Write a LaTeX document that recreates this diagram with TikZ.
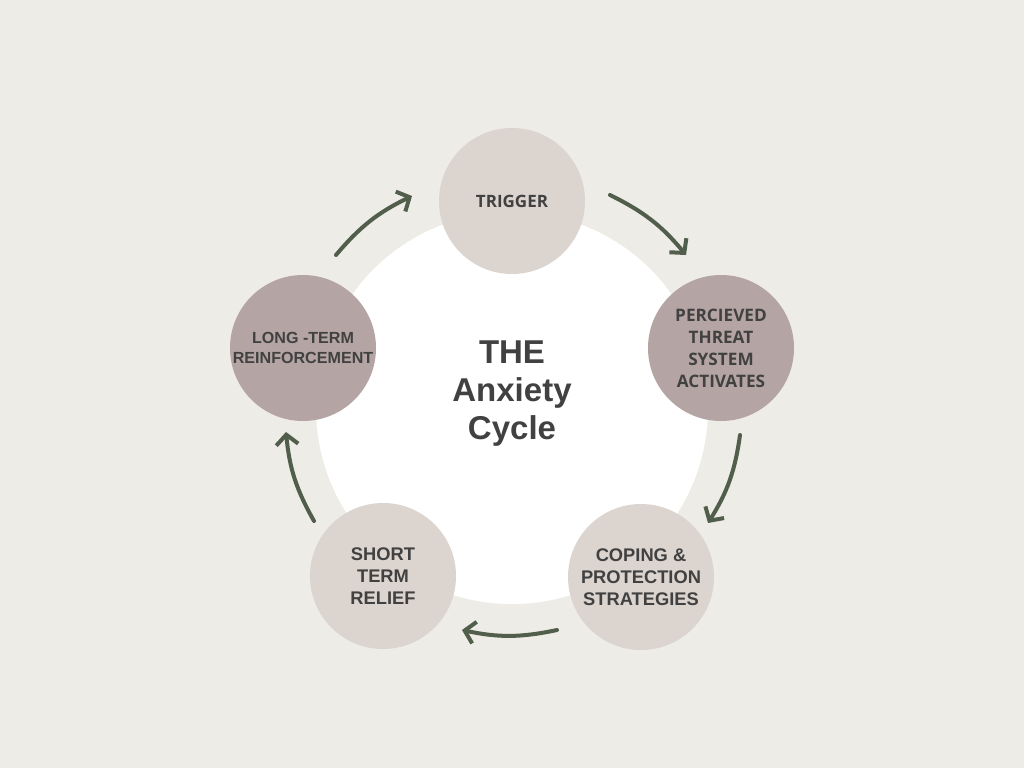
\documentclass[tikz,border=0pt]{standalone}
\usepackage{fontspec}
\setmainfont{Liberation Sans}
\newfontfamily\opensans{Open Sans}
\usetikzlibrary{arrows.meta}
\definecolor{paper}{HTML}{EEECE7}
\definecolor{sand}{HTML}{DCD4CF}
\definecolor{mauve}{HTML}{B5A4A4}
\definecolor{ink}{HTML}{414141}
\definecolor{moss}{HTML}{515E4B}

\begin{document}
\begin{tikzpicture}[line cap=round,line join=round,x=1pt,y=-1pt,
  stage/.style={circle,minimum size=146pt,inner sep=0pt,align=center,text=ink,font=\bfseries},
  cyc/.style={moss,line width=4pt,-{Straight Barb[length=10pt,width=22pt]},bend left=12}]
\fill [paper] (0,0) rectangle (1024,768);
\fill [white] (512,408) circle (196);
% the five stages
\node [stage,fill=sand,font=\opensans\bfseries\fontsize{17}{22}\selectfont] (trig) at (512,201) {TRIGGER};
\node [stage,fill=mauve,font=\opensans\bfseries\fontsize{17.2}{22}\selectfont] (threat) at (721,348) {PERCIEVED\\THREAT\\SYSTEM\\ACTIVATES};
\node [stage,fill=sand,font=\bfseries\fontsize{18.3}{22}\selectfont] (cope) at (641,577) {COPING \&\\PROTECTION\\STRATEGIES};
\node [stage,fill=sand,font=\bfseries\fontsize{18.3}{22}\selectfont] (relief) at (383,576) {SHORT\\TERM\\RELIEF};
\node [stage,fill=mauve,font=\bfseries\fontsize{16.1}{20}\selectfont] (reinf) at (303,348) {LONG -TERM\\REINFORCEMENT};
\node [text=ink,align=center,font=\bfseries\fontsize{33}{38}\selectfont] (title) at (512,394) {THE\\Anxiety\\Cycle};
% arrows round the cycle
\coordinate (a1) at (336,255);
\coordinate (b1) at (412,196);
\coordinate (a2) at (610,195);
\coordinate (b2) at (686,255);
\coordinate (a3) at (740,435);
\coordinate (b3) at (708,523);
\coordinate (a4) at (557,630);
\coordinate (b4) at (462,630);
\coordinate (a5) at (314,521);
\coordinate (b5) at (286,432);
\draw [cyc] (a1) to (b1);
\draw [cyc] (a2) to (b2);
\draw [cyc] (a3) to (b3);
\draw [cyc] (a4) to (b4);
\draw [cyc] (a5) to (b5);
\end{tikzpicture}
\end{document}
